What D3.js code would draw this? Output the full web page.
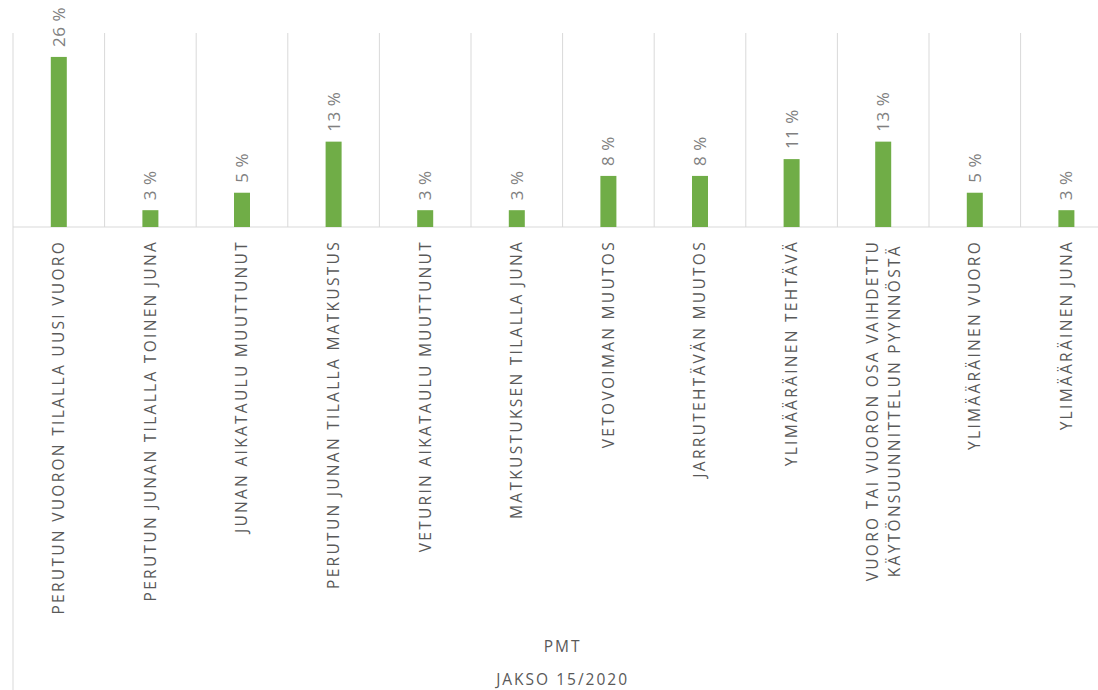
<!doctype html>
<html>
<head>
<meta charset="utf-8">
<title>PMT jakso 15/2020</title>
<script src="https://cdn.jsdelivr.net/npm/d3@7"></script>
<style>
  body { margin: 0; background: #fff; }
  text { font-family: "Open Sans", sans-serif; }
</style>
</head>
<body>
<div id="chart"></div>
<script>
// category labels (\n = line break in the label)
var categories = [
  "PERUTUN VUORON TILALLA UUSI VUORO",
  "PERUTUN JUNAN TILALLA TOINEN JUNA",
  "JUNAN AIKATAULU MUUTTUNUT",
  "PERUTUN JUNAN TILALLA MATKUSTUS",
  "VETURIN AIKATAULU MUUTTUNUT",
  "MATKUSTUKSEN TILALLA JUNA",
  "VETOVOIMAN MUUTOS",
  "JARRUTEHTÄVÄN MUUTOS",
  "YLIMÄÄRÄINEN TEHTÄVÄ",
  "VUORO TAI VUORON OSA VAIHDETTU\nKÄYTÖNSUUNNITTELUN PYYNNÖSTÄ",
  "YLIMÄÄRÄINEN VUORO",
  "YLIMÄÄRÄINEN JUNA"
];
// share of cases, percent
var values = [26.3, 2.6, 5.3, 13.2, 2.6, 2.6, 7.9, 7.9, 10.5, 13.2, 5.3, 2.6];
var groupLabel = "PMT";
var periodLabel = "JAKSO 15/2020";

var width = 1098, height = 690;
var left = 13, bandW = 91.6;
var baseY = 227, topY = 33;

var svg = d3.select("#chart").append("svg")
  .attr("width", width)
  .attr("height", height);

var x = d3.scaleBand()
  .domain(categories)
  .range([left, left + bandW * categories.length])
  .padding(0);

var y = d3.scaleLinear()
  .domain([0, 30])
  .range([baseY, topY]);

// vertical separators between categories
var edges = categories.map(function(c){ return x(c); });
edges.push(x.range()[1]);
svg.append("g").selectAll("line")
  .data(edges)
  .enter().append("line")
    .attr("x1", function(d){ return d; })
    .attr("x2", function(d){ return d; })
    .attr("y1", y(30))
    .attr("y2", function(d, i){ return i == 0 ? height : y(0); })
    .attr("stroke", "#d9d9d9")
    .attr("stroke-width", 1);

// baseline
svg.append("line")
  .attr("x1", left).attr("x2", width)
  .attr("y1", y(0)).attr("y2", y(0))
  .attr("stroke", "#d9d9d9");

var barW = 16;
svg.append("g").selectAll("rect")
  .data(values)
  .enter().append("rect")
    .attr("x", function(d, i){ return x(categories[i]) + x.bandwidth()/2 - barW/2; })
    .attr("y", function(d){ return y(d); })
    .attr("width", barW)
    .attr("height", function(d){ return y(0) - y(d); })
    .attr("fill", "#70ad47");

// value labels
svg.append("g").selectAll("text")
  .data(values)
  .enter().append("text")
    .attr("transform", function(d, i){
      var cx = x(categories[i]) + x.bandwidth()/2;
      return "translate(" + cx + "," + (y(d) - 10) + ") rotate(-90)";
    })
    .attr("dy", "0.35em")
    .style("font-size", "17px")
    .style("letter-spacing", "0.5px")
    .style("fill", "#808080")
    .text(function(d){ return Math.round(d) + " %"; });

// category labels
var catG = svg.append("g");
categories.forEach(function(c, i){
  var lines = c.split("\n");
  var cx = x(c) + x.bandwidth()/2;
  var lineH = 22;
  var g = catG.append("g");
  var texts = lines.map(function(l, j){
    var off = (j - (lines.length - 1)/2) * lineH;
    return g.append("text")
      .attr("dy", "0.35em")
      .style("font-size", "15.5px")
      .style("letter-spacing", "2.3px")
      .style("fill", "#595959")
      .attr("data-off", off)
      .text(l);
  });
  var maxLen = d3.max(texts, function(t){ return t.node().getComputedTextLength(); });
  var midY = 240 + maxLen / 2;
  texts.forEach(function(t){
    var off = +t.attr("data-off");
    t.attr("text-anchor", "middle")
     .attr("transform", "translate(" + (cx + off) + "," + midY + ") rotate(-90)");
  });
});

var midX = (x.range()[0] + x.range()[1]) / 2;
svg.append("text")
  .attr("x", midX).attr("y", 647)
  .attr("dy", "0.35em")
  .attr("text-anchor", "middle")
  .style("font-size", "15.5px")
  .style("letter-spacing", "2px")
  .style("fill", "#595959")
  .text(groupLabel);

svg.append("text")
  .attr("x", midX).attr("y", 680)
  .attr("dy", "0.35em")
  .attr("text-anchor", "middle")
  .style("font-size", "15.5px")
  .style("letter-spacing", "2px")
  .style("fill", "#595959")
  .text(periodLabel);
</script>
</body>
</html>
